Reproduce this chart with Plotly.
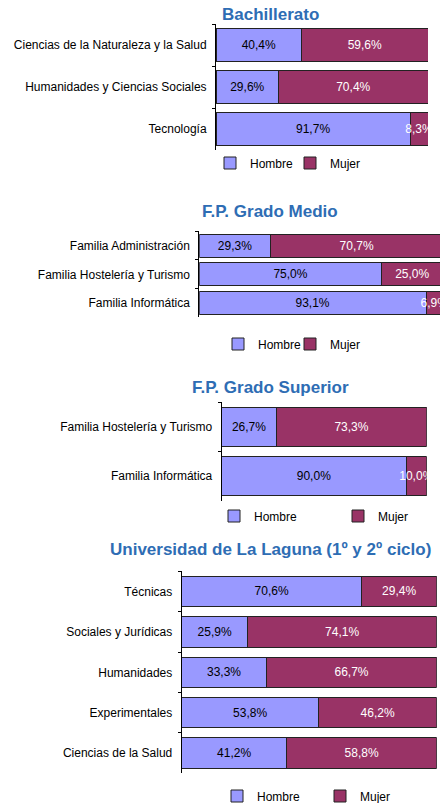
import plotly.graph_objects as go

# Datos (% por sexo)
bach_cat = ["Ciencias de la Naturaleza y la Salud", "Humanidades y Ciencias Sociales", "Tecnología"]
bach_hombre = [40.4, 29.6, 91.7]
bach_mujer = [59.6, 70.4, 8.3]

gm_cat = ["Familia Administración", "Familia Hostelería y Turismo", "Familia Informática"]
gm_hombre = [29.3, 75.0, 93.1]
gm_mujer = [70.7, 25.0, 6.9]

gs_cat = ["Familia Hostelería y Turismo", "Familia Informática"]
gs_hombre = [26.7, 90.0]
gs_mujer = [73.3, 10.0]

ull_cat = ["Técnicas", "Sociales y Jurídicas", "Humanidades", "Experimentales", "Ciencias de la Salud"]
ull_hombre = [70.6, 25.9, 33.3, 53.8, 41.2]
ull_mujer = [29.4, 74.1, 66.7, 46.2, 58.8]

titulos = ["Bachillerato", "F.P. Grado Medio", "F.P. Grado Superior",
           "Universidad de La Laguna (1º y 2º ciclo)"]

W, H = 440, 803
C_HOMBRE = "#9999FF"
C_MUJER = "#993366"
C_TITULO = "#2E6DB4"
FONT = "Liberation Sans, Arial, sans-serif"

# geometria de cada panel en pixeles: x0, x1, y0 (arriba), y1 (abajo), ancho barra,
# rango x, y del titulo, x donde empieza el texto de la leyenda, y leyenda, separacion
paneles = [
    dict(cat=bach_cat, h=bach_hombre, m=bach_mujer, x0=216, x1=428, y0=24, y1=150,
         bw=0.79, xr=100, ty=15, lt=245, ly=163, sep=80),
    dict(cat=gm_cat, h=gm_hombre, m=gm_mujer, x0=199.3, x1=440, y0=231.3, y1=317.3,
         bw=0.81, xr=98.85, ty=212, lt=253, ly=344, sep=72),
    dict(cat=gs_cat, h=gs_hombre, m=gs_mujer, x0=221.7, x1=426.7, y0=402, y1=501,
         bw=0.78, xr=100, ty=388, lt=249, ly=516, sep=124),
    dict(cat=ull_cat, h=ull_hombre, m=ull_mujer, x0=181.7, x1=436.7, y0=571.3, y1=773.3,
         bw=0.75, xr=100, ty=549, lt=252, ly=796, sep=103),
]

fig = go.Figure()
layout = {}
annotations = []

for i, p in enumerate(paneles, start=1):
    sfx = "" if i == 1 else str(i)
    for nombre, vals, color, tcolor in [("Hombre", p["h"], C_HOMBRE, "black"),
                                        ("Mujer", p["m"], C_MUJER, "white")]:
        fig.add_trace(go.Bar(
            x=vals, y=p["cat"], orientation="h", name=nombre,
            xaxis="x" + sfx, yaxis="y" + sfx, legend="legend" + sfx,
            width=p["bw"],
            marker=dict(color=color, line=dict(color="#222222", width=1)),
            texttemplate="%{x:.1f}%", textposition="inside", textangle=0,
            insidetextanchor="middle", constraintext="none",
            textfont=dict(color=tcolor, size=12, family=FONT),
            hoverinfo="skip",
        ))
    layout["xaxis" + sfx] = dict(domain=[p["x0"] / W, p["x1"] / W], range=[0, p["xr"]],
                                  visible=False, anchor="y" + sfx, fixedrange=True)
    layout["yaxis" + sfx] = dict(domain=[1 - p["y1"] / H, 1 - p["y0"] / H],
                                  anchor="x" + sfx, autorange="reversed",
                                  showline=True, linecolor="black", linewidth=1,
                                  ticks="outside", tickson="boundaries", ticklen=3,
                                  tickcolor="black", showgrid=False,
                                  ticklabelstandoff=6, fixedrange=True,
                                  tickfont=dict(size=12, color="black", family=FONT))
    # el texto de cada entrada empieza 40 px despues del origen de la leyenda
    layout["legend" + sfx] = dict(orientation="h", x=(p["lt"] - 35) / W, y=1 - p["ly"] / H,
                                   xanchor="left", yanchor="middle",
                                   entrywidth=p["sep"] - 45, entrywidthmode="pixels",
                                   itemwidth=30, traceorder="normal",
                                   bgcolor="rgba(0,0,0,0)",
                                   font=dict(size=12, color="black", family=FONT))
    annotations.append(dict(text=titulos[i - 1], x=270 / W, y=1 - p["ty"] / H,
                            xref="paper", yref="paper", xanchor="center",
                            yanchor="middle", showarrow=False,
                            font=dict(size=17, color=C_TITULO, family=FONT,
                                      weight="bold")))

fig.update_layout(
    width=W, height=H,
    margin=dict(l=0, r=0, t=0, b=0, autoexpand=False),
    barmode="stack",
    separators=",.",
    paper_bgcolor="white", plot_bgcolor="white",
    font=dict(family=FONT, size=12, color="black"),
    annotations=annotations,
    **layout,
)

# sin margen del body para que la figura ocupe la ventana exacta
fig.write_html("out.html", config={"displayModeBar": False},
               post_script="document.body.style.margin='0';")
